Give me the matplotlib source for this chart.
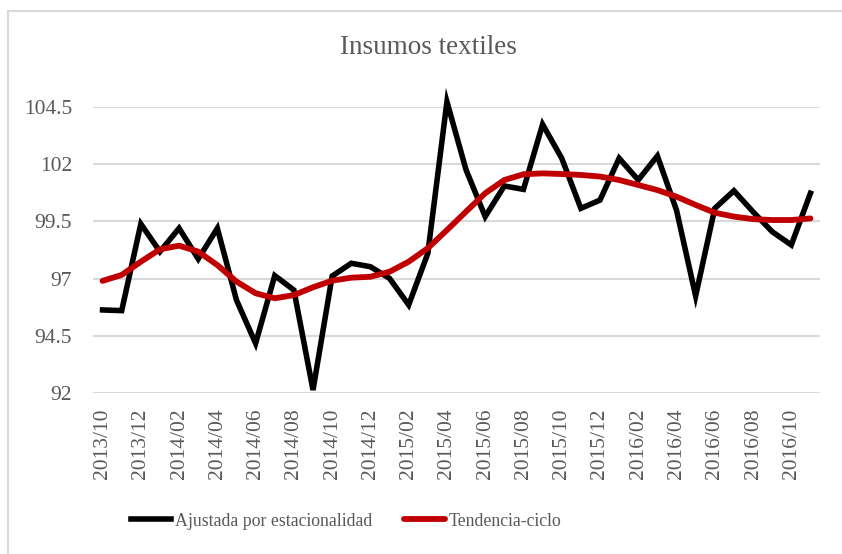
import numpy as np
import matplotlib.pyplot as plt
from matplotlib.lines import Line2D

# meses 2013/10 .. 2016/11
meses = ['2013/10', '2013/11', '2013/12', '2014/01', '2014/02', '2014/03', '2014/04',
         '2014/05', '2014/06', '2014/07', '2014/08', '2014/09', '2014/10', '2014/11',
         '2014/12', '2015/01', '2015/02', '2015/03', '2015/04', '2015/05', '2015/06',
         '2015/07', '2015/08', '2015/09', '2015/10', '2015/11', '2015/12', '2016/01',
         '2016/02', '2016/03', '2016/04', '2016/05', '2016/06', '2016/07', '2016/08',
         '2016/09', '2016/10', '2016/11']

ajustada = [95.63, 95.6, 99.39, 98.18, 99.2, 97.86, 99.2, 96.06, 94.17, 97.13,
            96.5, 92.13, 97.11, 97.67, 97.52, 97.01, 95.85, 98.1, 104.73, 101.75,
            99.71, 101.05, 100.9, 103.74, 102.26, 100.07, 100.43, 102.26, 101.31,
            102.36, 99.99, 96.24, 100.07, 100.84, 99.92, 99.05, 98.47, 100.73]

tendencia = [96.9, 97.16, 97.74, 98.28, 98.44, 98.18, 97.59, 96.87, 96.36, 96.14,
             96.28, 96.62, 96.91, 97.04, 97.08, 97.3, 97.74, 98.33, 99.12, 99.93,
             100.73, 101.31, 101.56, 101.6, 101.57, 101.53, 101.46, 101.31, 101.09,
             100.87, 100.58, 100.22, 99.88, 99.71, 99.6, 99.56, 99.56, 99.63]

yticks = [92, 94.5, 97, 99.5, 102, 104.5]

gris = '#595959'
plt.rcParams['font.family'] = ['Liberation Serif', 'DejaVu Serif']

fig = plt.figure(figsize=(8.42, 5.54), dpi=100)
ax = fig.add_axes([93 / 842, 1 - 393 / 554, 727 / 842, 286 / 554])

x = np.arange(len(meses))
ax.plot(x, ajustada, color='black', lw=4, solid_joinstyle='miter', clip_on=False,
        label='Ajustada por estacionalidad', zorder=3)
ax.plot(x, tendencia, color='#c00000', lw=4.2, solid_capstyle='round', clip_on=False,
        label='Tendencia-ciclo', zorder=4)

ax.set_xlim(-0.5, len(meses) - 0.5)
ax.set_ylim(92, 104.5)
ax.set_yticks(yticks)
ax.set_yticklabels(['92', '94.5', '97', '99.5', '102', '104.5'])
ax.set_xticks(x[::2])
ax.set_xticklabels(meses[::2], rotation=90)
ax.tick_params(length=0, labelsize=15.5, labelcolor=gris)
ax.tick_params(axis='y', pad=15)
ax.tick_params(axis='x', pad=11)
ax.grid(axis='y', color='#d9d9d9', lw=1.5)
ax.set_axisbelow(True)
for s in ax.spines.values():
    s.set_visible(False)

fig.text(428 / 842, 1 - 48 / 554, 'Insumos textiles', ha='center', va='center',
         fontsize=19.5, color=gris)

leg = fig.legend(loc='center', bbox_to_anchor=(346 / 842, 1 - 521 / 554), ncol=2,
                 frameon=False, fontsize=12.8, handlelength=2.3, handletextpad=0.2,
                 columnspacing=1.8)
for t in leg.get_texts():
    t.set_color(gris)

# borde del area del grafico
fig.add_artist(Line2D([8 / 842, 8 / 842], [0, 1 - 10.5 / 554], color='#d9d9d9', lw=1.5))
fig.add_artist(Line2D([8 / 842, 1], [1 - 10.5 / 554, 1 - 10.5 / 554], color='#d9d9d9', lw=1.5))

fig.savefig('out.png', dpi=100)
